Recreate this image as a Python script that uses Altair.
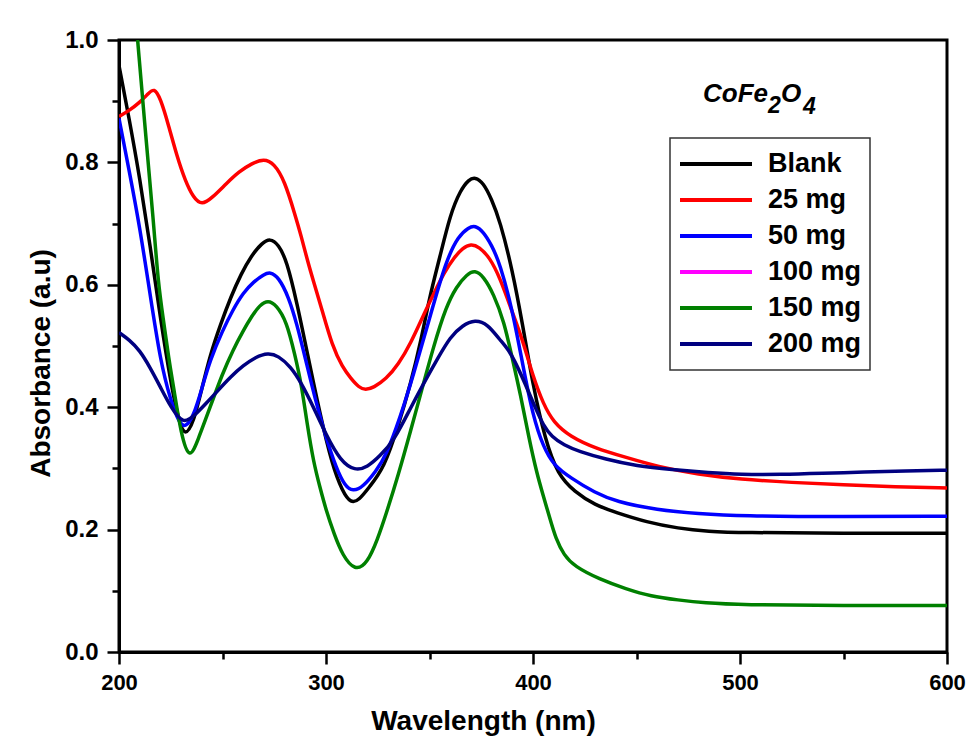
import altair as alt
import pandas as pd

# Wavelength (nm) / absorbance (a.u.) pairs
blank_x = [200, 205, 210, 215, 220, 225, 229, 232, 236, 240, 244, 249, 254, 259, 264, 269, 273, 277, 281, 286, 291, 297, 303, 308, 312, 316, 321, 328, 335, 341, 346, 350, 355, 360, 365, 369, 372, 376, 380, 384, 390, 395, 400, 406, 412, 420, 430, 440, 455, 470, 485, 500, 550, 600]
blank_y = [0.958, 0.87, 0.775, 0.665, 0.545, 0.44, 0.375, 0.352, 0.375, 0.43, 0.485, 0.535, 0.58, 0.618, 0.648, 0.668, 0.676, 0.666, 0.64, 0.57, 0.488, 0.39, 0.305, 0.262, 0.243, 0.248, 0.27, 0.30, 0.37, 0.44, 0.51, 0.58, 0.645, 0.715, 0.755, 0.772, 0.776, 0.767, 0.74, 0.705, 0.625, 0.535, 0.435, 0.345, 0.29, 0.262, 0.24, 0.228, 0.212, 0.202, 0.197, 0.195, 0.194, 0.194]

mg25_x = [200, 205, 210, 214, 217, 220, 224, 228, 232, 236, 240, 245, 252, 258, 264, 270, 275, 280, 285, 288, 291, 294, 298, 303, 308, 312, 316, 319, 323, 329, 335, 341, 347, 352, 357, 362, 366, 370, 374, 379, 384, 390, 395, 400, 405, 410, 418, 430, 445, 460, 480, 500, 525, 550, 575, 600]
mg25_y = [0.875, 0.885, 0.898, 0.912, 0.922, 0.905, 0.86, 0.81, 0.77, 0.742, 0.73, 0.742, 0.766, 0.785, 0.798, 0.806, 0.798, 0.77, 0.715, 0.68, 0.64, 0.605, 0.56, 0.50, 0.465, 0.447, 0.432, 0.428, 0.432, 0.446, 0.47, 0.505, 0.55, 0.585, 0.62, 0.645, 0.66, 0.667, 0.662, 0.645, 0.612, 0.555, 0.51, 0.45, 0.405, 0.375, 0.352, 0.333, 0.318, 0.303, 0.29, 0.282, 0.277, 0.273, 0.27, 0.268]

mg50_x = [200, 205, 210, 215, 220, 225, 229, 232, 236, 240, 244, 250, 255, 260, 265, 270, 273, 277, 282, 286, 290, 295, 300, 305, 309, 313, 318, 324, 329, 336, 342, 350, 358, 364, 369, 372, 376, 380, 384, 390, 395, 400, 405, 410, 418, 430, 440, 460, 480, 500, 550, 600]
mg50_y = [0.872, 0.785, 0.695, 0.585, 0.475, 0.41, 0.375, 0.366, 0.385, 0.43, 0.477, 0.525, 0.559, 0.587, 0.605, 0.617, 0.621, 0.613, 0.58, 0.535, 0.48, 0.41, 0.35, 0.30, 0.272, 0.262, 0.27, 0.295, 0.32, 0.385, 0.45, 0.545, 0.64, 0.68, 0.694, 0.697, 0.687, 0.665, 0.635, 0.56, 0.47, 0.385, 0.335, 0.305, 0.285, 0.26, 0.246, 0.232, 0.226, 0.222, 0.221, 0.222]

mg150_x = [209, 213, 216.6, 219, 221.5, 224, 226.5, 230, 234, 238, 244, 250, 255, 260, 264, 268, 272, 276, 281, 285, 288, 291, 294, 297, 300, 304, 308, 314, 320, 325, 329, 335, 341, 346, 352, 358, 363, 368, 372, 376, 381, 386, 390, 394, 398, 402, 405, 408, 411, 415, 420, 432, 445, 457, 470, 483, 500, 550, 600]
mg150_y = [1.0, 0.84, 0.706, 0.60, 0.542, 0.48, 0.43, 0.355, 0.313, 0.345, 0.40, 0.455, 0.493, 0.525, 0.548, 0.567, 0.575, 0.567, 0.54, 0.485, 0.44, 0.37, 0.31, 0.27, 0.232, 0.192, 0.158, 0.132, 0.145, 0.185, 0.225, 0.29, 0.363, 0.425, 0.50, 0.564, 0.597, 0.617, 0.624, 0.614, 0.585, 0.54, 0.48, 0.42, 0.35, 0.29, 0.255, 0.22, 0.185, 0.158, 0.14, 0.119, 0.103, 0.091, 0.085, 0.08, 0.077, 0.076, 0.076]

mg200_x = [200, 205, 210, 215, 220, 225, 231, 236, 242, 248, 254, 260, 266, 272, 277, 283, 288, 294, 300, 307, 314, 320, 326, 333, 341, 348, 354, 360, 366, 372, 378, 384, 388, 392, 396, 401, 405, 409, 415, 422, 435, 450, 467, 485, 500, 520, 540, 560, 580, 600]
mg200_y = [0.522, 0.51, 0.493, 0.465, 0.433, 0.40, 0.372, 0.385, 0.406, 0.428, 0.45, 0.468, 0.482, 0.489, 0.484, 0.466, 0.44, 0.40, 0.355, 0.312, 0.296, 0.302, 0.32, 0.346, 0.40, 0.444, 0.48, 0.515, 0.534, 0.543, 0.536, 0.51, 0.495, 0.47, 0.44, 0.40, 0.37, 0.352, 0.338, 0.328, 0.315, 0.304, 0.298, 0.293, 0.29, 0.29, 0.292, 0.294, 0.296, 0.297]

series_names = ["Blank", "25 mg", "50 mg", "100 mg", "150 mg", "200 mg"]
series_colors = ["#000000", "#FF0000", "#0000FF", "#FF00FF", "#008000", "#000080"]

frames = []
for name, xs, ys in [("Blank", blank_x, blank_y), ("25 mg", mg25_x, mg25_y),
                     ("50 mg", mg50_x, mg50_y), ("150 mg", mg150_x, mg150_y),
                     ("200 mg", mg200_x, mg200_y)]:
    frames.append(pd.DataFrame({"wavelength": xs, "absorbance": ys, "sample": name}))
df = pd.concat(frames, ignore_index=True)

FONT = "Liberation Sans"

lines = alt.Chart(df).mark_line(strokeWidth=3.5, interpolate="basis", clip=True).encode(
    x=alt.X("wavelength:Q",
            scale=alt.Scale(domain=[200, 600], nice=False, zero=False),
            axis=alt.Axis(
                title="Wavelength (nm)",
                values=[200, 250, 300, 350, 400, 450, 500, 550, 600],
                labelExpr="datum.value % 100 === 0 ? datum.label : ''",
                tickSize={"condition": {"test": "datum.value % 100 === 0", "value": 12}, "value": 7},
                labelFlush=False,
                labelFontSize=22,
                labelPadding=8,
                titleX=364, titleY=77, titleBaseline="alphabetic", titleAlign="center",
            )),
    y=alt.Y("absorbance:Q",
            scale=alt.Scale(domain=[0, 1], nice=False),
            axis=alt.Axis(
                title="Absorbance (a.u)",
                values=[0, 0.1, 0.2, 0.3, 0.4, 0.5, 0.6, 0.7, 0.8, 0.9, 1.0],
                labelExpr="round(datum.value * 10) % 2 === 0 ? format(datum.value, '.1f') : ''",
                tickSize={"condition": {"test": "round(datum.value * 10) % 2 === 0", "value": 12}, "value": 7},
                labelPadding=9,
                titleX=-70, titleY=323, titleAngle=270, titleBaseline="alphabetic", titleAlign="center",
            )),
    color=alt.Color("sample:N",
                    scale=alt.Scale(domain=series_names, range=series_colors),
                    legend=alt.Legend(
                        title=None, orient="none", legendX=551, legendY=98,
                        symbolType="stroke", symbolSize=5184, symbolStrokeWidth=4,
                        clipHeight=36, rowPadding=0, padding=8,
                        labelFont=FONT, labelFontSize=27, labelFontWeight="bold",
                        labelOffset=14, labelColor="#000000",
                        strokeColor="#333333", fillColor="#FFFFFF",
                    )),
    detail="sample:N",
)

def label(text, x, y, size):
    return alt.Chart(pd.DataFrame({"t": [text]})).mark_text(
        font=FONT, fontSize=size, fontWeight="bold", fontStyle="italic",
        align="left", baseline="alphabetic", color="#000000",
    ).encode(text="t:N", x=alt.value(x), y=alt.value(y))

annot = label("CoFe", 584, 62, 26) + label("2", 649, 73, 23) + label("O", 662, 62, 26) + label("4", 684, 74, 23)

chart = alt.layer(lines, annot).properties(
    width=828, height=612,
    autosize=alt.AutoSizeParams(type="none"),
    padding={"left": 111, "top": 32, "right": 19, "bottom": 89},
).configure_view(
    stroke="#000000", strokeWidth=3
).configure_axis(
    domainColor="#000000", domainWidth=3, tickColor="#000000", tickWidth=2.5,
    labelFont=FONT, labelFontSize=24, labelFontWeight="bold", labelColor="#000000",
    titleFont=FONT, titleFontSize=28, titleFontWeight="bold", titleColor="#000000",
    grid=False, labelOverlap=False,
).configure_legend(strokeWidth=1.5)

chart.save("out.html", embed_options={"renderer": "svg", "actions": False})
